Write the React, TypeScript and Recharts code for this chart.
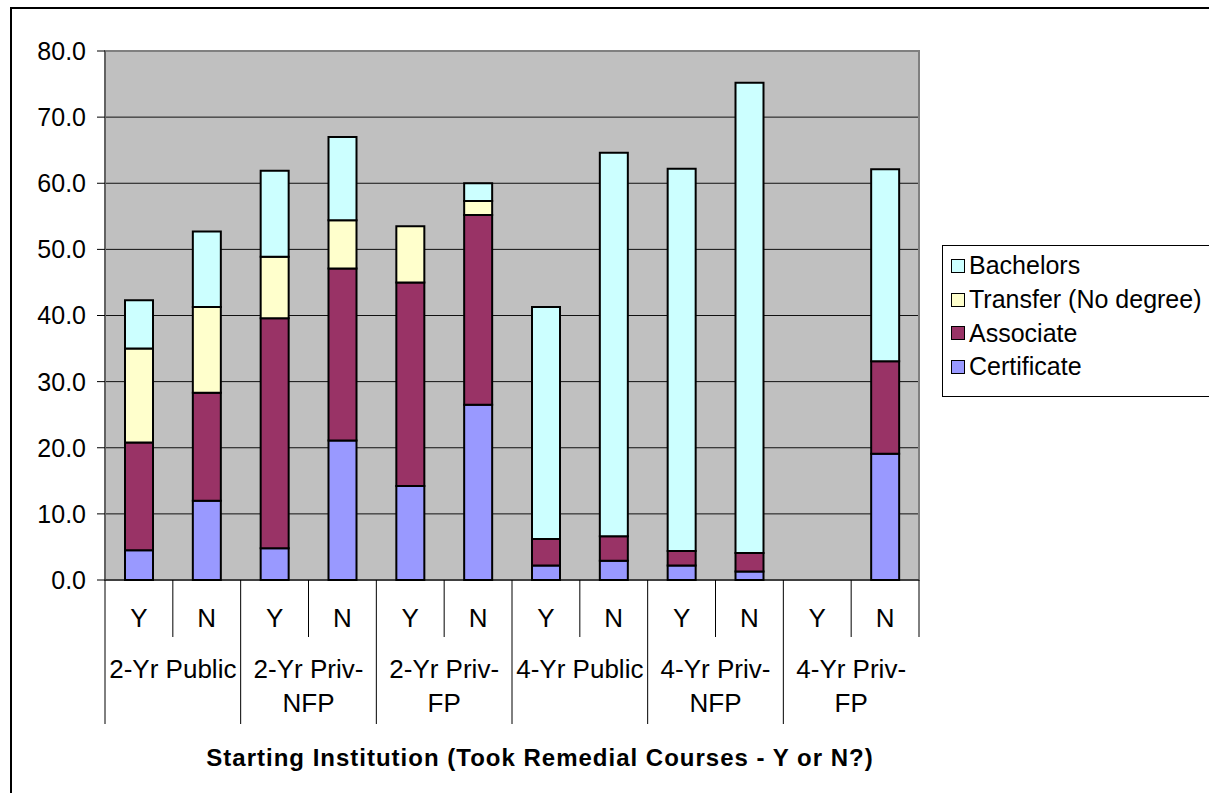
import { BarChart, Bar, XAxis, YAxis, CartesianGrid, ReferenceArea, Label } from 'recharts'

const remedial = ['Y', 'N', 'Y', 'N', 'Y', 'N', 'Y', 'N', 'Y', 'N', 'Y', 'N']
const institutions = [
  ['2-Yr Public'],
  ['2-Yr Priv-', 'NFP'],
  ['2-Yr Priv-', 'FP'],
  ['4-Yr Public'],
  ['4-Yr Priv-', 'NFP'],
  ['4-Yr Priv-', 'FP'],
]

const certificate = [4.5, 12.0, 4.8, 21.1, 14.2, 26.5, 2.2, 2.9, 2.2, 1.3, 0, 19.1]
const associate = [16.3, 16.3, 34.8, 26.0, 30.8, 28.7, 4.0, 3.7, 2.2, 2.8, 0, 14.0]
const transfer = [14.2, 13.0, 9.3, 7.3, 8.5, 2.1, 0, 0, 0, 0, 0, 0]
const bachelors = [7.3, 11.4, 13.0, 12.6, 0, 2.7, 35.1, 58.0, 57.8, 71.1, 0, 29.0]

const yTicks = [0, 10, 20, 30, 40, 50, 60, 70, 80]

const SERIES = [
  { key: 'certificate', name: 'Certificate', color: '#9999FF' },
  { key: 'associate', name: 'Associate', color: '#993366' },
  { key: 'transfer', name: 'Transfer (No degree)', color: '#FFFFCC' },
  { key: 'bachelors', name: 'Bachelors', color: '#CCFFFF' },
]

const TITLE = 'Starting Institution (Took Remedial Courses - Y or N?)'
const FONT = '"Liberation Sans", Arial, sans-serif'

const W = 1209
const H = 793
const PLOT_LEFT = 105
const PLOT_RIGHT = 919
const PLOT_TOP = 51
const AXIS_Y = 580
const BAND = (PLOT_RIGHT - PLOT_LEFT) / remedial.length

const data = remedial.map((r, i) => ({
  key: `${institutions[Math.floor(i / 2)].join('')} ${r}`,
  remedial: r,
  certificate: certificate[i],
  associate: associate[i],
  transfer: transfer[i],
  bachelors: bachelors[i],
}))

function CategoryTick(props: any) {
  const { x, index } = props
  const half = BAND / 2
  const isLast = index === data.length - 1
  const long = index % 2 === 1 && !isLast
  const group = institutions[Math.floor(index / 2)]
  return (
    <g>
      {index === 0 && (
        <line x1={x - half} x2={x - half} y1={AXIS_Y} y2={AXIS_Y + 144} stroke="#000" />
      )}
      <line x1={x + half} x2={x + half} y1={AXIS_Y} y2={long ? AXIS_Y + 144 : AXIS_Y + 57} stroke="#000" />
      <text x={x} y={AXIS_Y + 38} textAnchor="middle" dominantBaseline="central" fontSize={26} fill="#000" fontFamily={FONT}>
        {data[index].remedial}
      </text>
      {index % 2 === 1 &&
        group.map((line, k) => (
          <text
            key={k}
            x={x - half}
            y={AXIS_Y + 89 + k * 34}
            textAnchor="middle"
            dominantBaseline="central"
            fontSize={26}
            fill="#000"
            fontFamily={FONT}
          >
            {line}
          </text>
        ))}
    </g>
  )
}

function AxisTitle() {
  return (
    <text x={540} y={766} textAnchor="middle" fontSize={24} fontWeight="bold" letterSpacing={1} fill="#000" fontFamily={FONT}>
      {TITLE}
    </text>
  )
}

export default function App() {
  return (
    <div style={{ position: 'relative', width: W, height: H, overflow: 'hidden', background: '#fff', fontFamily: FONT }}>
      <style>{'body{margin:0}'}</style>
      <div
        style={{
          position: 'absolute',
          left: 10,
          top: 7,
          width: 1400,
          height: 1000,
          border: '2px solid #000',
        }}
      />
      <div style={{ position: 'absolute', left: 0, top: 0 }}>
        <BarChart
          width={W}
          height={H}
          data={data}
          margin={{ top: PLOT_TOP, right: W - PLOT_RIGHT, bottom: 0, left: 0 }}
          barSize={28}
        >
          <CartesianGrid vertical={false} stroke="#111" fill="#C0C0C0" fillOpacity={1} horizontalValues={[10, 20, 30, 40, 50, 60, 70]} />
          <XAxis
            dataKey="key"
            interval={0}
            tickLine={false}
            axisLine={{ stroke: '#000' }}
            height={H - AXIS_Y}
            tick={<CategoryTick />}
          >
            <Label content={<AxisTitle />} />
          </XAxis>
          <YAxis
            domain={[0, 80]}
            ticks={yTicks}
            width={PLOT_LEFT}
            tickSize={8}
            tickMargin={11}
            tickFormatter={(v: number) => v.toFixed(1)}
            tick={{ fontSize: 25, fill: '#000', fontFamily: FONT }}
            tickLine={{ stroke: '#000' }}
            axisLine={{ stroke: '#444' }}
          />
          {SERIES.map((s) => (
            <Bar key={s.key} dataKey={s.key} name={s.name} stackId="a" fill={s.color} stroke="#000" strokeWidth={2} isAnimationActive={false} />
          ))}
          <ReferenceArea y1={0} y2={80} fill="none" stroke="#808080" strokeWidth={2} ifOverflow="visible" />
        </BarChart>
      </div>
      <div
        style={{
          position: 'absolute',
          left: 942,
          top: 245,
          width: 400,
          height: 152,
          border: '1px solid #000',
          background: '#fff',
          boxSizing: 'border-box',
          paddingTop: 3,
        }}
      >
        {[...SERIES].reverse().map((s) => (
          <div key={s.key} style={{ display: 'flex', alignItems: 'center', height: 33.7, fontSize: 25, color: '#000' }}>
            <span
              style={{
                display: 'inline-block',
                width: 12,
                height: 12,
                marginLeft: 8,
                marginRight: 4,
                background: s.color,
                border: '1px solid #000',
              }}
            />
            {s.name}
          </div>
        ))}
      </div>
    </div>
  )
}
